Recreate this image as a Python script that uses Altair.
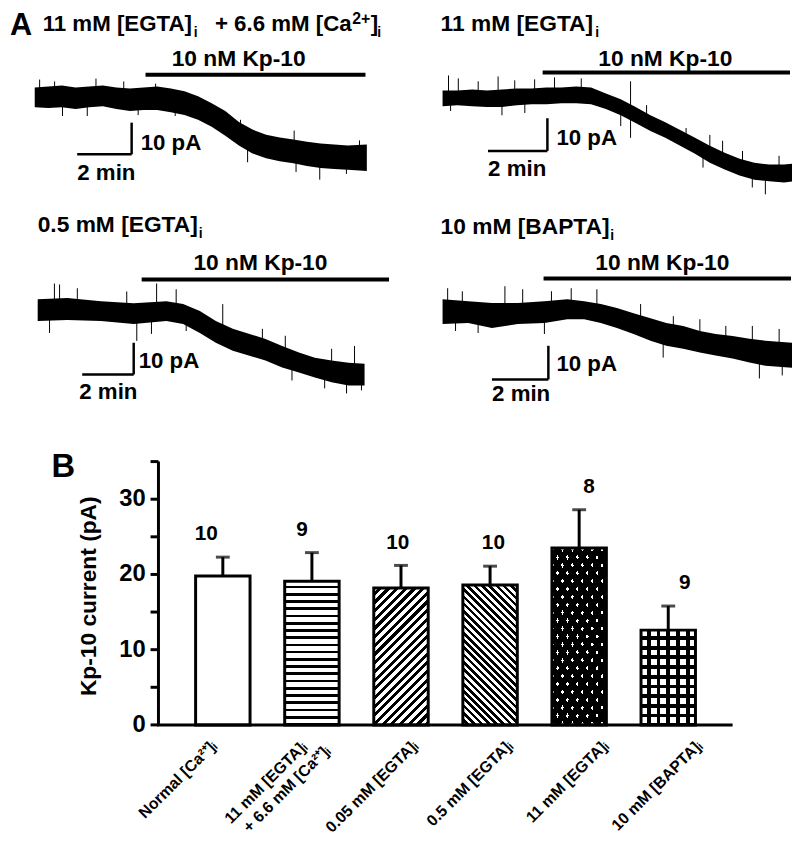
import altair as alt
import pandas as pd
import numpy as np

FONT = "Liberation Sans"
M = 8  # page margin: image px -> canvas px

# ---------------- Panel A: current traces (min, pA relative to baseline) ----------------
tr1_t = [0, 0.5, 1, 1.5, 2, 2.5, 3, 3.5, 4, 4.5, 5, 5.5, 6, 6.5, 7, 7.5, 8, 8.5, 9, 9.5, 10, 10.5, 11, 11.5, 12.2]
tr1_hi = [3.1, 3.4, 3.7, 3.1, 3.4, 3.7, 3.1, 2.8, 3.1, 3.4, 2.8, 1.9, 0.3, -1.9, -4.3, -7.8, -10.2, -11.8, -12.7, -13.3, -14.0, -14.6, -14.9, -15.2, -14.9]
tr1_lo = [-3.1, -3.4, -3.1, -3.7, -3.1, -2.8, -3.7, -4.3, -4.0, -4.0, -4.7, -5.6, -7.1, -9.3, -12.1, -15.2, -17.7, -19.2, -20.2, -20.8, -21.7, -22.3, -22.6, -22.9, -23.3]
tr1_spk_t = [0.18, 0.73, 2.25, 3.27, 4.44, 1.02, 1.93, 5.16, 3.8, 7.56, 7.82, 9.53, 10.47, 11.45, 11.93, 9.6]
tr1_spk_v = [5.6, 5.0, 5.9, 5.0, 4.3, -5.9, -5.9, -5.9, -5.6, -7.1, -20.5, -10.5, -26.0, -24.2, -13.6, -23.6]

tr2_t = [0, 0.5, 1, 1.5, 2, 2.5, 3, 3.5, 4, 4.5, 5, 5.5, 6, 6.5, 7, 7.5, 8, 8.5, 9, 9.5, 10, 10.5, 11, 11.5, 11.8]
tr2_hi = [2.4, 2.4, 2.7, 2.4, 2.7, 3.0, 3.0, 3.3, 3.3, 3.6, 3.3, 1.5, -0.3, -2.7, -5.2, -7.3, -9.7, -12.1, -14.5, -16.7, -18.5, -19.7, -20.3, -20.3, -20.0]
tr2_lo = [-2.4, -2.1, -2.4, -2.7, -2.7, -2.1, -1.8, -1.8, -1.5, -1.5, -1.8, -3.3, -5.2, -7.6, -10.0, -12.1, -14.5, -17.0, -19.7, -21.8, -23.6, -24.9, -25.4, -25.8, -25.4]
tr2_spk_t = [0.2, 0.53, 1.2, 1.87, 2.43, 3.1, 3.77, 4.67, 6.33, 6.87, 8.2, 9.0, 9.43, 10.1, 11.33,
             0.27, 2.0, 2.77, 6.0, 6.33, 8.77, 10.43, 10.87]
tr2_spk_v = [7.0, 6.1, 5.2, 6.7, 5.5, 5.8, 6.4, 6.1, 5.2, -2.1, -9.1, -11.2, -13.0, -16.1, -17.6,
             -3.9, -5.2, -4.5, -8.5, -12.1, -21.2, -27.3, -29.4]

tr3_t = [0, 1.15, 2.46, 3.73, 5.0, 5.65, 6.3, 6.92, 7.58, 8.23, 8.85, 9.5, 10.15, 10.77, 11.42, 12.08, 12.7]
tr3_hi = [3.4, 3.8, 2.8, 2.2, 2.8, 1.9, -0.3, -3.4, -5.9, -7.5, -9.1, -11.3, -13.4, -15.0, -15.9, -16.6, -16.9]
tr3_lo = [-3.4, -3.1, -3.4, -4.4, -3.4, -4.4, -7.2, -10.3, -12.8, -14.4, -15.9, -18.1, -19.7, -21.3, -22.8, -23.8, -23.8]
tr3_spk_t = [0.65, 0.85, 1.54, 3.46, 4.62, 5.38, 7.19, 8.73, 9.62, 11.42, 12.31,
             0.46, 3.85, 4.42, 5.77, 9.88, 11.15, 12.0, 12.58]
tr3_spk_v = [8.4, 8.1, 6.9, 5.9, 8.4, 6.6, 1.9, -5.9, -8.1, -12.2, -11.3,
             -7.2, -9.7, -7.5, -6.6, -22.2, -24.7, -26.3, -25.3]

tr4_t = [0, 0.91, 1.75, 2.67, 3.61, 4.42, 5.02, 5.61, 6.18, 6.77, 7.37, 7.93, 8.53, 9.12, 9.68, 10.28, 10.88, 11.44, 12.39]
tr4_hi = [3.5, 2.9, 2.4, 2.4, 2.9, 3.5, 2.9, 2.1, 0.9, -0.6, -2.1, -3.5, -4.4, -5.9, -6.8, -7.4, -8.2, -8.8, -9.4]
tr4_lo = [-3.8, -3.5, -5.0, -3.8, -3.5, -2.4, -2.4, -3.5, -5.0, -6.8, -8.8, -10.3, -11.2, -12.3, -13.2, -14.1, -15.3, -16.2, -16.8]
tr4_spk_t = [0.18, 0.70, 2.21, 2.84, 3.86, 4.56, 5.47, 7.02, 8.18, 9.12, 10.04, 10.98, 11.93,
             0.46, 1.26, 3.61, 7.82, 11.23, 12.04]
tr4_spk_v = [6.8, 5.9, 7.4, 6.5, 5.9, 6.8, 6.5, 2.1, -1.5, -2.4, -4.4, -4.4, -5.3,
             -5.9, -6.5, -6.8, -13.8, -20.0, -19.1]

kp_start = [4.07, 3.37, 4.04, 3.58]     # min
kp_end = [12.15, 11.7, 13.65, 12.35]    # min
kp_level = [7.1, 7.9, 9.7, 9.7]         # pA
sb_t0 = [1.56, 1.53, 1.73, 1.75]        # scale bar corner (min)
sb_v0 = [-18.0, -16.1, -20.3, -20.3]    # scale bar corner (pA)
SB_T = 2.0   # min
SB_I = 10.0  # pA

# layout of each trace panel (image px): x of t=0, px per min, y of 0 pA, px per pA
trace_layout = [(35, 27.5, 94, 3.2), (447, 30.0, 95, 3.3), (38, 26.0, 309, 3.2), (447, 28.5, 310, 3.4)]

# ---------------- Panel B: bar chart ----------------
cats = ["normal", "egta11ca", "egta005", "egta05", "egta11", "bapta10"]
bar_mean = [19.8, 19.1, 18.2, 18.6, 23.5, 12.6]
bar_sem = [2.5, 3.8, 3.0, 2.5, 5.1, 3.2]
bar_n = [10, 9, 10, 10, 8, 9]
x_labels = ["Normal [Ca²⁺]ᵢ", ["11 mM [EGTA]ᵢ", "+ 6.6 mM [Ca²⁺]ᵢ"], "0.05 mM [EGTA]ᵢ",
            "0.5 mM [EGTA]ᵢ", "11 mM [EGTA]ᵢ", "10 mM [BAPTA]ᵢ"]
y_major = [0, 10, 20, 30]
y_minor = [5, 15, 25, 35]

dummy = pd.DataFrame({"k": [0]})
layers = []


def txt(s, x, y, size, align="left", baseline="alphabetic", angle=0):
    kw = dict(text=s, font=FONT, fontSize=size, fontWeight="bold", align=align,
              baseline=baseline, color="black")
    if angle:
        kw["angle"] = angle
    return alt.Chart(dummy).mark_text(**kw).encode(x=alt.value(x - M), y=alt.value(y - M))


# Arial-bold advance widths (per 1000 em) for title layout
AW = {' ': 278, '+': 584, '.': 278, '[': 333, ']': 333, 'A': 722, 'B': 722, 'C': 722, 'E': 667,
      'G': 778, 'M': 833, 'P': 667, 'T': 611, 'a': 556, 'i': 278, 'm': 889}


def tw(s, size):
    return sum(AW.get(c, 556) for c in s) * size / 1000.0


# ---- traces ----
traces = [
    (tr1_t, tr1_hi, tr1_lo, tr1_spk_t, tr1_spk_v),
    (tr2_t, tr2_hi, tr2_lo, tr2_spk_t, tr2_spk_v),
    (tr3_t, tr3_hi, tr3_lo, tr3_spk_t, tr3_spk_v),
    (tr4_t, tr4_hi, tr4_lo, tr4_spk_t, tr4_spk_v),
]
for k, (tt, hi, lo, st, sv) in enumerate(traces):
    x0, ppm, y0, ppp = trace_layout[k]
    xs = alt.Scale(domain=[0, 10], range=[x0 - M, x0 - M + 10 * ppm], zero=False, nice=False)
    ys = alt.Scale(domain=[0, 10], range=[y0 - M, y0 - M - 10 * ppp], zero=False, nice=False)
    df = pd.DataFrame({"t": tt, "hi": hi, "lo": lo})
    center = (np.array(hi) + np.array(lo)) / 2.0
    dsp = pd.DataFrame({"t": st, "tip": sv, "base": np.interp(st, tt, center)})
    dkp = pd.DataFrame({"s": [kp_start[k]], "e": [kp_end[k]], "v": [kp_level[k]]})
    dsb = pd.DataFrame({"t0": [sb_t0[k]], "t1": [sb_t0[k] + SB_T],
                        "v0": [sb_v0[k]], "v1": [sb_v0[k] + SB_I]})
    layers.append(alt.Chart(df).mark_area(color="black", opacity=1).encode(
        x=alt.X("t:Q", scale=xs, axis=None), y=alt.Y("hi:Q", scale=ys, axis=None), y2="lo:Q"))
    layers.append(alt.Chart(dsp).mark_rule(color="black", strokeWidth=1).encode(
        x=alt.X("t:Q", scale=xs, axis=None), y=alt.Y("tip:Q", scale=ys, axis=None), y2="base:Q"))
    layers.append(alt.Chart(dkp).mark_rule(color="black", strokeWidth=4).encode(
        x=alt.X("s:Q", scale=xs, axis=None), x2="e:Q", y=alt.Y("v:Q", scale=ys, axis=None)))
    layers.append(alt.Chart(dsb).mark_rule(color="black", strokeWidth=2.5).encode(
        x=alt.X("t0:Q", scale=xs, axis=None), x2="t1:Q", y=alt.Y("v0:Q", scale=ys, axis=None)))
    layers.append(alt.Chart(dsb).mark_rule(color="black", strokeWidth=2.5).encode(
        x=alt.X("t1:Q", scale=xs, axis=None), y=alt.Y("v0:Q", scale=ys, axis=None), y2="v1:Q"))

# trace annotations (image coords)
kp_lab = [(241, 62), (672, 62), (263, 268), (669, 268)]
pa_lab = [(142, 147), (562, 142), (140, 367), (562, 370)]
min_lab = [(78, 178), (493, 173), (80, 399), (497, 401)]
for k in range(4):
    layers.append(txt("10 nM Kp-10", kp_lab[k][0], kp_lab[k][1], 23, align="center"))
    layers.append(txt("10 pA", pa_lab[k][0], pa_lab[k][1], 22.5))
    layers.append(txt("2 min", min_lab[k][0], min_lab[k][1], 22.5))

# panel A titles built from segments: (text, kind, fixed x or None), main font size
SZ_S, SZ_P = 14, 16
title_specs = [
    (27, 22.5, [("11 mM [EGTA]", "n", 43), ("i", "sub", None), ("+ 6.6 mM [Ca", "n", 217),
                ("2+", "sup", None), ("]", "n", None), ("i", "sub", None)]),
    (27, 23, [("11 mM [EGTA]", "n", 445), ("i", "sub", None)]),
    (230, 23, [("0.5 mM [EGTA]", "n", 38), ("i", "sub", None)]),
    (232, 23, [("10 mM [BAPTA]", "n", 445), ("i", "sub", None)]),
]
for base, szn, segs in title_specs:
    cur = 0.0
    for s, kind, fx in segs:
        x = fx if fx is not None else cur + (-1.0 if kind == "sub" else 0.5)
        if kind == "n":
            layers.append(txt(s, x, base, szn))
            cur = x + tw(s, szn)
        elif kind == "sub":
            layers.append(txt(s, x, base + 6, SZ_S))
            cur = x + tw(s, SZ_S)
        else:
            layers.append(txt(s, x, base - 7, SZ_P))
            cur = x + tw(s, SZ_P)

layers.append(txt("A", 10, 31, 31))
layers.append(txt("B", 52, 478, 33))

# ---------------- Panel B ----------------
dfB = pd.DataFrame({"cat": cats, "mean": bar_mean,
                    "top": [m + s for m, s in zip(bar_mean, bar_sem)], "n": bar_n})
xb = alt.Scale(domain=cats, range=[160 - M, 740 - M], paddingInner=0.389, paddingOuter=0.417)
yb = alt.Scale(domain=[0, 35], range=[728 - M, 462 - M], zero=False, nice=False)
BAND_W = 55.0
PX_UNIT = 266.0 / 35.0


def XB():
    return alt.X("cat:N", scale=xb, axis=None)


def YB(f):
    return alt.Y(f, scale=yb, axis=None)


def stripes(W, H, nx, ny, period, line, fg, bg):
    nrm = (nx * nx + ny * ny) ** 0.5
    nx, ny = nx / nrm, ny / nrm
    corners = [(0, 0), (1, 0), (0, 1), (1, 1)]
    proj = [nx * u * W + ny * v * H for u, v in corners]
    i0 = int(np.argmin(proj))
    L = max(proj) - min(proj)
    u0, v0 = corners[i0]
    kf = L / (nx * nx * W * W + ny * ny * H * H)
    stops = []
    gap = period - line
    o = 0.0
    while o < L:
        for off, col in [(o, bg), (o + gap, bg), (o + gap, fg), (o + period, fg)]:
            stops.append({"offset": round(min(max(off / L, 0.0), 1.0), 5), "color": col})
        o += period
    return {"gradient": "linear", "x1": u0, "y1": v0,
            "x2": u0 + kf * nx * W, "y2": v0 + kf * ny * H, "stops": stops}


CLR = "rgba(0,0,0,0)"
pattern_defs = {
    1: [stripes(BAND_W, bar_mean[1] * PX_UNIT, 0, 1, 7.3, 2.7, "black", "white")],
    2: [stripes(BAND_W, bar_mean[2] * PX_UNIT, 1, 1, 6.2, 3.0, "black", "white")],
    3: [stripes(BAND_W, bar_mean[3] * PX_UNIT, 1, -1, 5.2, 2.6, "black", "white")],
    4: [stripes(BAND_W, bar_mean[4] * PX_UNIT, 8, -5, 8.48, 6.0, "black", CLR),
        stripes(BAND_W, bar_mean[4] * PX_UNIT, 8, 5, 8.48, 6.0, "black", CLR)],
    5: [stripes(BAND_W, bar_mean[5] * PX_UNIT, 0, 1, 9.8, 3.8, "black", CLR),
        stripes(BAND_W, bar_mean[5] * PX_UNIT, 1, 0, 9.8, 3.8, "black", CLR)],
}

layers.append(alt.Chart(dfB).mark_bar(fill="white", strokeWidth=0).encode(
    x=XB(), y=YB("mean:Q"), y2=alt.datum(0)))
for i, grads in pattern_defs.items():
    for g in grads:
        layers.append(alt.Chart(dfB.iloc[[i]]).mark_bar(fill=g, strokeWidth=0).encode(
            x=XB(), y=YB("mean:Q"), y2=alt.datum(0)))
layers.append(alt.Chart(dfB).mark_bar(filled=False, stroke="black", strokeWidth=3).encode(
    x=XB(), y=YB("mean:Q"), y2=alt.datum(0)))
layers.append(alt.Chart(dfB).mark_rule(color="black", strokeWidth=3).encode(
    x=XB(), y=YB("mean:Q"), y2="top:Q"))
layers.append(alt.Chart(dfB).mark_tick(color="black", size=14, thickness=3).encode(
    x=XB(), y=YB("top:Q")))
layers.append(alt.Chart(dfB).mark_text(font=FONT, fontSize=21, fontWeight="bold", dy=-23,
                                       baseline="middle", color="black").encode(
    x=XB(), y=YB("top:Q"), text="n:Q"))

# axes drawn with the bar chart's own scales
layers.append(alt.Chart(dummy).mark_rule(color="black", strokeWidth=3).encode(
    x=alt.value(160 - M), y=alt.YDatum(0, scale=yb, axis=None), y2=alt.datum(35)))
layers.append(alt.Chart(dummy).mark_rule(color="black", strokeWidth=3).encode(
    x=alt.value(158.5 - M), x2=alt.value(740 - M), y=alt.YDatum(0, scale=yb, axis=None)))
dT = pd.DataFrame({"v": y_major + y_minor})
layers.append(alt.Chart(dT).mark_rule(color="black", strokeWidth=3).encode(
    x=alt.value(152 - M), x2=alt.value(160 - M), y=YB("v:Q")))
dL = pd.DataFrame({"v": y_major})
layers.append(alt.Chart(dL).mark_text(font=FONT, fontSize=24, fontWeight="bold", align="right",
                                      baseline="middle", color="black").encode(
    x=alt.value(147 - M), y=YB("v:Q"), text="v:Q"))

layers.append(txt("Kp-10 current (pA)", 90, 598, 23, align="center", baseline="middle", angle=270))

# rotated category labels: (label, screen offset x from band centre, screen offset y)
lab_off = [[(2, 0)], [(-3.5, 1), (20, 5)], [(12, 0)], [(11, 0)], [(11, 0)], [(9, 0)]]
for i, lab in enumerate(x_labels):
    parts = lab if isinstance(lab, list) else [lab]
    for part, (sx, sy) in zip(parts, lab_off[i]):
        dx = 0.7071 * (sx - sy)
        dy = 0.7071 * (sx + sy)
        layers.append(alt.Chart(dfB.iloc[[i]]).mark_text(
            text=part, font=FONT, fontSize=16, fontWeight="bold", angle=315, align="right",
            baseline="top", dx=dx, dy=dy, color="black").encode(x=XB(), y=alt.value(741 - M)))

chart = alt.layer(*layers).resolve_scale(x="independent", y="independent").properties(
    width=792, height=827, padding=0, autosize=alt.AutoSizeParams(type="none")
).configure_view(stroke=None)

chart.save("out.html", embed_options={"renderer": "svg", "actions": False})
